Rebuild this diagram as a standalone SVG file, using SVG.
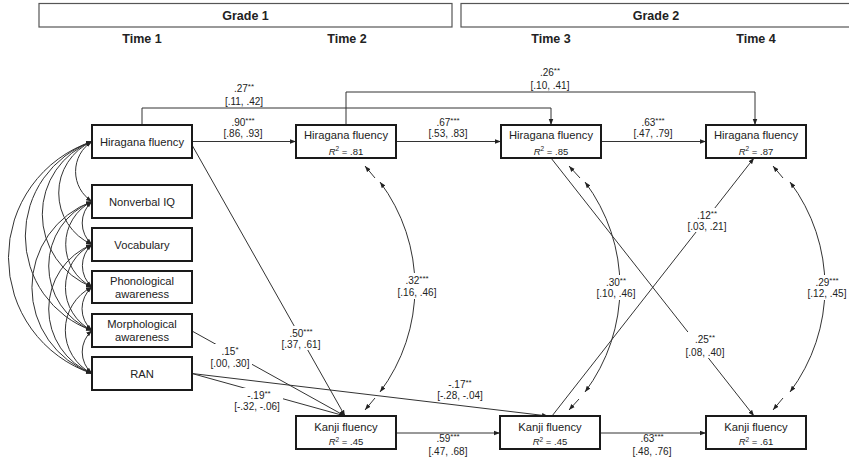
<svg xmlns="http://www.w3.org/2000/svg" width="849" height="458" viewBox="0 0 849 458">
<defs>
<marker id="ah" viewBox="0 0 10 10" refX="10" refY="5" markerWidth="6" markerHeight="6" markerUnits="userSpaceOnUse" orient="auto-start-reverse"><path d="M0,1.2 L10,5 L0,8.8 z" fill="#222"/></marker>
<style>
text{font-family:"Liberation Sans",Arial,sans-serif;fill:#222}
.hd{font-size:12.5px;font-weight:bold;text-anchor:middle}
.hbox{fill:#fff;stroke:#555;stroke-width:1.2}
.box{fill:#fff;stroke:#1a1a1a;stroke-width:2}
.nt{font-size:11.2px;text-anchor:middle}
.r2{font-size:9.5px;text-anchor:middle}
.lb{font-size:10px;text-anchor:middle}
.st{font-size:8px}
.bg{fill:#fff;stroke:none}
.c{fill:none;stroke:#333;stroke-width:1}
.a{marker-end:url(#ah)}
.d{marker-start:url(#ah);marker-end:url(#ah)}
</style>
</defs>
<g id="header">
<rect class="hbox" x="39" y="3.5" width="413" height="23.5"/>
<rect class="hbox" x="461" y="3.5" width="391" height="23.5"/>
<text class="hd" x="245.5" y="19.5">Grade 1</text>
<text class="hd" x="656" y="19.5">Grade 2</text>
<text class="hd" x="142" y="42.5">Time 1</text>
<text class="hd" x="347" y="42.5">Time 2</text>
<text class="hd" x="551" y="42.5">Time 3</text>
<text class="hd" x="756" y="42.5">Time 4</text>
</g>
<g id="connectors">
<path class="c a" d="M142,125 V108 H551 V125"/>
<path class="c a" d="M346,125 V92 H755 V125"/>
<path class="c a" d="M192,141.5 H296"/>
<path class="c a" d="M396,141.5 H501"/>
<path class="c a" d="M601,141.5 H706"/>
<path class="c a" d="M396,433 H500"/>
<path class="c a" d="M600,433 H706"/>
<path class="c a" d="M192,145 L345,416"/>
<path class="c a" d="M192,331 L345,416"/>
<path class="c a" d="M192,373.5 L345,416"/>
<path class="c a" d="M192,373.5 L548,416"/>
<path class="c a" d="M552,416 L754,158"/>
<path class="c a" d="M551,158 L754,416"/>
<path class="c d" d="M380,182 A175,175 0 0 1 380,392"/>
<path class="c d" d="M585,182 A175,175 0 0 1 585,392"/>
<path class="c d" d="M790,182 A175,175 0 0 1 790,392"/>
<path class="c a" d="M375,178 L365,166"/>
<path class="c a" d="M375,398 L365,410"/>
<path class="c a" d="M580,178 L569,166"/>
<path class="c a" d="M579,399 L569,410"/>
<path class="c a" d="M783,178 L773,166"/>
<path class="c a" d="M783,398 L773,410"/>
<path class="c d" d="M92,141.5 A35.6,35.6 0 0 0 92,201.5"/>
<path class="c d" d="M92,141.5 A56.5,56.5 0 0 0 92,244.5"/>
<path class="c d" d="M92,141.5 A78.1,78.1 0 0 0 92,287"/>
<path class="c d" d="M92,141.5 A100.3,100.3 0 0 0 92,330.5"/>
<path class="c d" d="M92,141.5 A122.3,122.3 0 0 0 92,373.5"/>
<path class="c d" d="M92,201.5 A28.5,28.5 0 0 0 92,244.5"/>
<path class="c d" d="M92,201.5 A47.9,47.9 0 0 0 92,287"/>
<path class="c d" d="M92,201.5 A69.7,69.7 0 0 0 92,330.5"/>
<path class="c d" d="M92,201.5 A91.6,91.6 0 0 0 92,373.5"/>
<path class="c d" d="M92,244.5 A28.3,28.3 0 0 0 92,287"/>
<path class="c d" d="M92,244.5 A48.1,48.1 0 0 0 92,330.5"/>
<path class="c d" d="M92,244.5 A69.7,69.7 0 0 0 92,373.5"/>
<path class="c d" d="M92,287 A28.7,28.7 0 0 0 92,330.5"/>
<path class="c d" d="M92,287 A48.4,48.4 0 0 0 92,373.5"/>
<path class="c d" d="M92,330.5 A28.5,28.5 0 0 0 92,373.5"/>
</g>
<g id="labels">
<text class="lb" x="244" y="91.5">.27<tspan class="st" dy="-3">**</tspan></text>
<text class="lb" x="244" y="104.5">[.11, .42]</text>
<text class="lb" x="550" y="75.5">.26<tspan class="st" dy="-3">**</tspan></text>
<text class="lb" x="550" y="88.5">[.10, .41]</text>
<text class="lb" x="243" y="125.5">.90<tspan class="st" dy="-3">***</tspan></text>
<text class="lb" x="243" y="136.5">[.86, .93]</text>
<text class="lb" x="448" y="125.5">.67<tspan class="st" dy="-3">***</tspan></text>
<text class="lb" x="448" y="136.5">[.53, .83]</text>
<text class="lb" x="653" y="125.5">.63<tspan class="st" dy="-3">***</tspan></text>
<text class="lb" x="653" y="136.5">[.47, .79]</text>
<rect class="bg" x="395" y="273" width="44" height="26"/>
<text class="lb" x="417" y="283.5">.32<tspan class="st" dy="-3">***</tspan></text>
<text class="lb" x="417" y="295.5">[.16, .46]</text>
<rect class="bg" x="594" y="275" width="44" height="25"/>
<text class="lb" x="616" y="285.5">.30<tspan class="st" dy="-3">**</tspan></text>
<text class="lb" x="616" y="297">[.10, .46]</text>
<rect class="bg" x="805" y="275" width="44" height="25"/>
<text class="lb" x="827" y="285.5">.29<tspan class="st" dy="-3">***</tspan></text>
<text class="lb" x="827" y="297">[.12, .45]</text>
<rect class="bg" x="685" y="208" width="44" height="24"/>
<text class="lb" x="707" y="218.5">.12<tspan class="st" dy="-3">**</tspan></text>
<text class="lb" x="707" y="229.5">[.03, .21]</text>
<rect class="bg" x="683" y="332" width="44" height="26"/>
<text class="lb" x="705" y="343">.25<tspan class="st" dy="-3">**</tspan></text>
<text class="lb" x="705" y="355.5">[.08, .40]</text>
<rect class="bg" x="279" y="326" width="44" height="24"/>
<text class="lb" x="301" y="336.5">.50<tspan class="st" dy="-3">***</tspan></text>
<text class="lb" x="301" y="347.5">[.37, .61]</text>
<rect class="bg" x="208" y="344" width="44" height="25"/>
<text class="lb" x="230" y="354.5">.15<tspan class="st" dy="-3">*</tspan></text>
<text class="lb" x="230" y="366.5">[.00, .30]</text>
<rect class="bg" x="233" y="388" width="50" height="23"/>
<text class="lb" x="259" y="398.5">-.19<tspan class="st" dy="-3">**</tspan></text>
<text class="lb" x="257" y="410">[-.32, -.06]</text>
<text class="lb" x="460" y="387.5">-.17<tspan class="st" dy="-3">**</tspan></text>
<text class="lb" x="460" y="398.5">[-.28, -.04]</text>
<text class="lb" x="448" y="441.5">.59<tspan class="st" dy="-3">***</tspan></text>
<text class="lb" x="448" y="455">[.47, .68]</text>
<text class="lb" x="652" y="442">.63<tspan class="st" dy="-3">***</tspan></text>
<text class="lb" x="652" y="455">[.48, .76]</text>
</g>
<g id="node-h1"><rect class="box" x="92" y="125" width="100" height="33"/><text class="nt" x="142" y="145.5">Hiragana fluency</text></g>
<g id="node-niq"><rect class="box" x="92" y="185" width="100" height="33"/><text class="nt" x="142" y="205.5">Nonverbal IQ</text></g>
<g id="node-voc"><rect class="box" x="92" y="228" width="100" height="33"/><text class="nt" x="142" y="248.5">Vocabulary</text></g>
<g id="node-phon"><rect class="box" x="92" y="271" width="100" height="32"/><text class="nt" x="142" y="285">Phonological</text><text class="nt" x="142" y="298">awareness</text></g>
<g id="node-morph"><rect class="box" x="92" y="314" width="100" height="33"/><text class="nt" x="142" y="327.5">Morphological</text><text class="nt" x="142" y="341">awareness</text></g>
<g id="node-ran"><rect class="box" x="92" y="357" width="100" height="33"/><text class="nt" x="142" y="377.5">RAN</text></g>
<g id="node-h2"><rect class="box" x="296" y="125" width="100" height="33"/><text class="nt" x="346" y="139">Hiragana fluency</text><text class="r2" x="346" y="154.5"><tspan font-style="italic">R</tspan><tspan font-size="6.5" dy="-3.5">2</tspan><tspan dy="3.5"> = .81</tspan></text></g>
<g id="node-h3"><rect class="box" x="501" y="125" width="100" height="33"/><text class="nt" x="551" y="139">Hiragana fluency</text><text class="r2" x="551" y="154.5"><tspan font-style="italic">R</tspan><tspan font-size="6.5" dy="-3.5">2</tspan><tspan dy="3.5"> = .85</tspan></text></g>
<g id="node-h4"><rect class="box" x="706" y="125" width="100" height="33"/><text class="nt" x="756" y="139">Hiragana fluency</text><text class="r2" x="756" y="154.5"><tspan font-style="italic">R</tspan><tspan font-size="6.5" dy="-3.5">2</tspan><tspan dy="3.5"> = .87</tspan></text></g>
<g id="node-k2"><rect class="box" x="296" y="416" width="100" height="33"/><text class="nt" x="346" y="431">Kanji fluency</text><text class="r2" x="346" y="445"><tspan font-style="italic">R</tspan><tspan font-size="6.5" dy="-3.5">2</tspan><tspan dy="3.5"> = .45</tspan></text></g>
<g id="node-k3"><rect class="box" x="500" y="416" width="100" height="33"/><text class="nt" x="550" y="431">Kanji fluency</text><text class="r2" x="550" y="445"><tspan font-style="italic">R</tspan><tspan font-size="6.5" dy="-3.5">2</tspan><tspan dy="3.5"> = .45</tspan></text></g>
<g id="node-k4"><rect class="box" x="706" y="416" width="100" height="33"/><text class="nt" x="756" y="431">Kanji fluency</text><text class="r2" x="756" y="445"><tspan font-style="italic">R</tspan><tspan font-size="6.5" dy="-3.5">2</tspan><tspan dy="3.5"> = .61</tspan></text></g>
</svg>
